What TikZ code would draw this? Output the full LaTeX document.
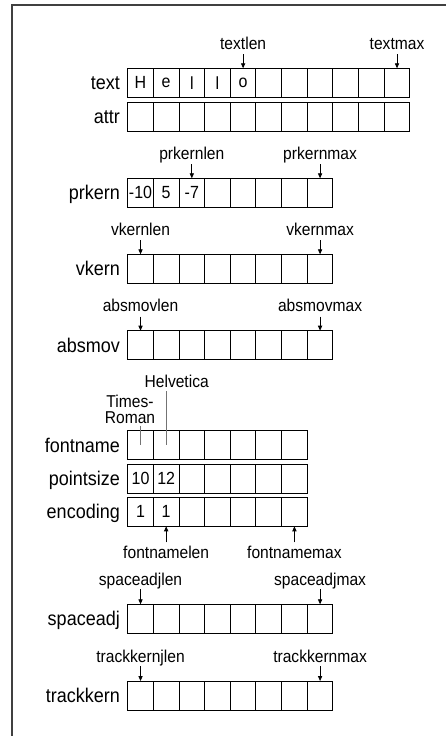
\documentclass[tikz,border=0pt]{standalone}
\usepackage{fontspec}
\setmainfont{Liberation Sans}
\usetikzlibrary{arrows.meta}
\newcommand\tx[1]{\scalebox{1}[1.1]{#1}}
\begin{document}
\begin{tikzpicture}[x=1pt,y=1pt,
  cellbox/.style={draw, line width=1pt, minimum width=25.65pt, minimum height=29pt,
    inner sep=0pt, outer sep=0pt, anchor=north west, font=\fontsize{16}{19}\selectfont},
  rowlab/.style={anchor=base east, inner sep=0pt, font=\fontsize{18}{21}\selectfont},
  ann/.style={anchor=base, inner sep=0pt, font=\fontsize{15.6}{18}\selectfont},
  arr/.style={line width=0.8pt, -{Triangle[length=5pt,width=4.2pt]}},
  pointer/.style={line width=0.7pt, draw=black!55},
  frame/.style={line width=1.4pt, draw=black!75}]
\useasboundingbox (0,0) rectangle (446,-736);
\draw[frame] (12,-736) -- (12,-5) -- (446,-5);

% text / attr
\foreach \t [count=\i] in {H,e,l,l,o,{},{},{},{},{},{}}
  \node[cellbox] (text\i) at ({127.7+(\i-1)*25.65},-68.3) {\tx{\t}};
\foreach \i in {1,...,11}
  \node[cellbox] (attr\i) at ({127.7+(\i-1)*25.65},-102) {};
\node[rowlab] (textlab) at (120,-89.8) {\tx{text}};
\node[rowlab] (attrlab) at (120,-123.5) {\tx{attr}};
\node[ann] (textlen) at (text5.north |- 0,-49.3) {\tx{textlen}};
\node[ann] (textmax) at (text11.north |- 0,-49.3) {\tx{textmax}};
\draw[arr] ([yshift=14pt]text5.north) -- (text5.north);
\draw[arr] ([yshift=14pt]text11.north) -- (text11.north);

% prkern
\foreach \t [count=\i] in {-10,5,-7,{},{},{},{},{}}
  \node[cellbox] (prkern\i) at ({127.7+(\i-1)*25.65},-178.3) {\tx{\t}};
\node[rowlab] (prkernlab) at (120,-199.8) {\tx{prkern}};
\node[ann] (prkernlen) at (prkern3.north |- 0,-159.3) {\tx{prkernlen}};
\node[ann] (prkernmax) at (prkern8.north |- 0,-159.3) {\tx{prkernmax}};
\draw[arr] ([yshift=14pt]prkern3.north) -- (prkern3.north);
\draw[arr] ([yshift=14pt]prkern8.north) -- (prkern8.north);

% vkern
\foreach \i in {1,...,8}
  \node[cellbox] (vkern\i) at ({127.7+(\i-1)*25.65},-254.3) {};
\node[rowlab] (vkernlab) at (120,-275.8) {\tx{vkern}};
\node[ann] (vkernlen) at (vkern1.north |- 0,-235.3) {\tx{vkernlen}};
\node[ann] (vkernmax) at (vkern8.north |- 0,-235.3) {\tx{vkernmax}};
\draw[arr] ([yshift=14pt]vkern1.north) -- (vkern1.north);
\draw[arr] ([yshift=14pt]vkern8.north) -- (vkern8.north);

% absmov
\foreach \i in {1,...,8}
  \node[cellbox] (absmov\i) at ({127.7+(\i-1)*25.65},-330.7) {};
\node[rowlab] (absmovlab) at (120,-352.2) {\tx{absmov}};
\node[ann] (absmovlen) at (absmov1.north |- 0,-311.7) {\tx{absmovlen}};
\node[ann] (absmovmax) at (absmov8.north |- 0,-311.7) {\tx{absmovmax}};
\draw[arr] ([yshift=14pt]absmov1.north) -- (absmov1.north);
\draw[arr] ([yshift=14pt]absmov8.north) -- (absmov8.north);

% fontname / pointsize / encoding
\foreach \i in {1,...,7}
  \node[cellbox] (fontname\i) at ({127.7+(\i-1)*25.65},-430.7) {};
\foreach \t [count=\i] in {10,12,{},{},{},{},{}}
  \node[cellbox] (pointsize\i) at ({127.7+(\i-1)*25.65},-464.3) {\tx{\t}};
\foreach \t [count=\i] in {1,1,{},{},{},{},{}}
  \node[cellbox] (encoding\i) at ({127.7+(\i-1)*25.65},-497.3) {\tx{\t}};
\node[rowlab] (fontnamelab) at (120,-452.2) {\tx{fontname}};
\node[rowlab] (pointsizelab) at (120,-485.8) {\tx{pointsize}};
\node[rowlab] (encodinglab) at (120,-518.8) {\tx{encoding}};

\node[ann] (helv) at (176.7,-387.3) {\tx{Helvetica}};
\node[ann] (times) at (130,-407.5) {\tx{Times-}};
\node[ann] (roman) at (130,-423) {\tx{Roman}};
\draw[pointer] ([yshift=-4pt]helv.base -| fontname2.center) -- (fontname2.center);
\draw[pointer] ([yshift=-2.5pt]roman.base -| fontname1.center) -- (fontname1.center);

\node[ann] (fontnamelen) at (encoding2.south |- 0,-558) {\tx{fontnamelen}};
\node[ann] (fontnamemax) at (encoding7.south |- 0,-558) {\tx{fontnamemax}};
\draw[arr] ([yshift=-16pt]encoding2.south) -- (encoding2.south);
\draw[arr] ([yshift=-16pt]encoding7.south) -- (encoding7.south);

% spaceadj
\foreach \i in {1,...,8}
  \node[cellbox] (spaceadj\i) at ({127.7+(\i-1)*25.65},-604.3) {};
\node[rowlab] (spaceadjlab) at (120,-625.8) {\tx{spaceadj}};
\node[ann] (spaceadjlen) at (spaceadj1.north |- 0,-585.3) {\tx{spaceadjlen}};
\node[ann] (spaceadjmax) at (spaceadj8.north |- 0,-585.3) {\tx{spaceadjmax}};
\draw[arr] ([yshift=15pt]spaceadj1.north) -- (spaceadj1.north);
\draw[arr] ([yshift=15pt]spaceadj8.north) -- (spaceadj8.north);

% trackkern
\foreach \i in {1,...,8}
  \node[cellbox] (trackkern\i) at ({127.7+(\i-1)*25.65},-681) {};
\node[rowlab] (trackkernlab) at (120,-702.5) {\tx{trackkern}};
\node[ann] (trackkernlen) at (trackkern1.north |- 0,-662) {\tx{trackkernjlen}};
\node[ann] (trackkernmax) at (trackkern8.north |- 0,-662) {\tx{trackkernmax}};
\draw[arr] ([yshift=15pt]trackkern1.north) -- (trackkern1.north);
\draw[arr] ([yshift=15pt]trackkern8.north) -- (trackkern8.north);
\end{tikzpicture}
\end{document}
